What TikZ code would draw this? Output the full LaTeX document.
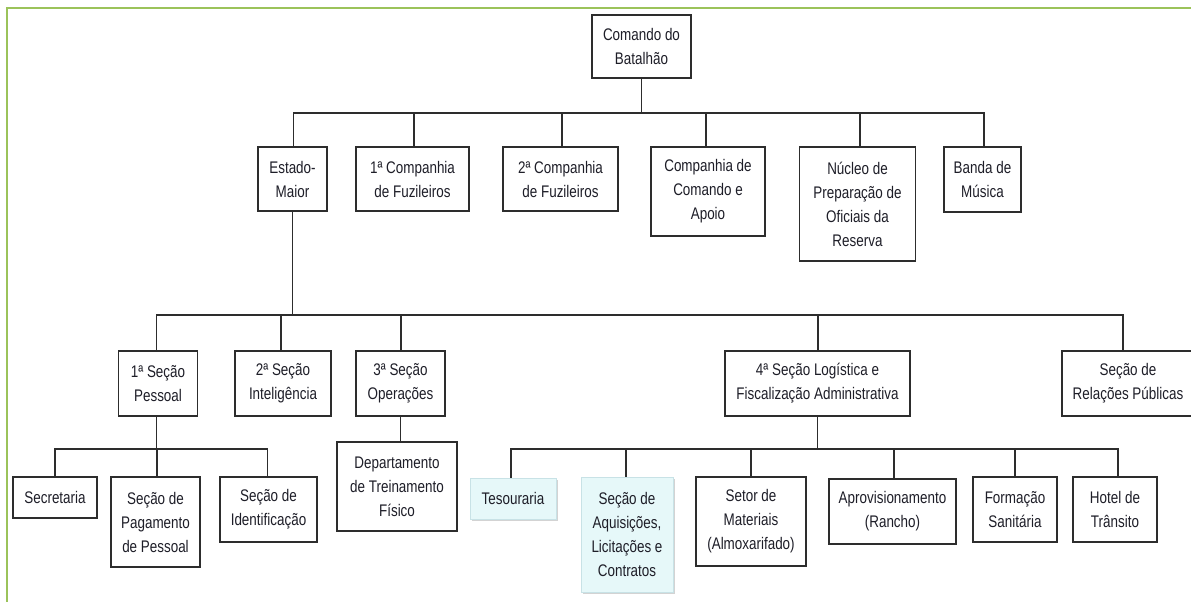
\documentclass[tikz,border=0pt]{standalone}
\usepackage{fontspec}
\setmainfont[FakeStretch=0.8]{Liberation Sans}
\usetikzlibrary{shadows}
\definecolor{framegreen}{RGB}{155,195,90}
\definecolor{boxline}{RGB}{45,45,45}
\definecolor{inktext}{RGB}{30,30,40}
\definecolor{paleaqua}{RGB}{230,248,249}
\definecolor{aqualine}{RGB}{200,226,230}
\tikzset{
  box/.style={draw=boxline, line width=1.4pt, fill=white, inner sep=0pt,
    align=center, text=inktext, font=\fontsize{16.8}{24}\selectfont},
  aquabox/.style={box, draw=aqualine, line width=1pt, fill=paleaqua,
    drop shadow={shadow xshift=1.5pt, shadow yshift=-2pt, opacity=0.35}},
  link/.style={draw=boxline, line width=1.3pt},
  frameline/.style={draw=framegreen, line width=2.5pt}
}
% \orgunit[style]{name}{cx}{cy}{width}{height}{text}
\newcommand\orgunit[7][box]{%
  \node[#1, minimum width=#5pt, minimum height=#6pt] (#2) at (#3,#4) {#7};}
\begin{document}
\begin{tikzpicture}[x=1pt, y=-1pt]
\useasboundingbox (0,0) rectangle (1191,602);
% page frame
\draw[frameline] (7,620) -- (7,8) -- (1210,8);

% bar levels
\coordinate (barA) at (0,113);
\coordinate (barB) at (0,315);
\coordinate (barC) at (0,449);

% level 1
\orgunit{cmd}{641.5}{46.5}{99}{63}{Comando do\\Batalhão}
% level 2
\orgunit{em}{292.5}{179}{69}{64}{Estado-\\Maior}
\orgunit{ca}{412.5}{179}{113}{64}{1ª Companhia\\de Fuzileiros}
\orgunit{cb}{560.5}{179}{115}{64}{2ª Companhia\\de Fuzileiros}
\orgunit{cca}{708}{191.5}{114}{89}{Companhia de\\Comando e\\Apoio}
\orgunit{nuc}{857.5}{204}{116}{114}{Núcleo de\\Preparação de\\Oficiais da\\Reserva}
\orgunit{band}{982.5}{179.5}{77}{65}{Banda de\\Música}
% level 3
\orgunit{sa}{158}{383.5}{79}{65}{1ª Seção\\Pessoal}
\orgunit{sb}{283}{383.5}{96}{65}{2ª Seção\\Inteligência}
\orgunit{sc}{400.5}{383.5}{89}{65}{3ª Seção\\Operações}
\orgunit{sd}{817.5}{383.5}{185}{65}{4ª Seção Logística e\\Fiscalização Administrativa}
\orgunit{rp}{1128}{383.5}{132}{65}{Seção de\\Relações Públicas}
% level 4, under 1ª Seção
\orgunit{sec}{55}{497.5}{84}{41}{Secretaria}
\orgunit{pag}{155.5}{522}{89}{90}{Seção de\\Pagamento\\de Pessoal}
\orgunit{idf}{268.5}{509.5}{97}{65}{Seção de\\Identificação}
% under 3ª Seção
\orgunit{dep}{397}{486.5}{120}{89}{Departamento\\de Treinamento\\Físico}
% under 4ª Seção
\orgunit[aquabox]{tes}{513}{498.5}{86}{41}{Tesouraria}
\orgunit[aquabox]{aq}{627}{534.5}{92}{115}{Seção de\\Aquisições,\\Licitações e\\Contratos}
\orgunit{mat}{751}{521.5}{110}{89}{Setor de\\Materiais\\(Almoxarifado)}
\orgunit{apr}{892.5}{511.5}{127}{65}{Aprovisionamento\\(Rancho)}
\orgunit{form}{1015}{509.5}{84}{65}{Formação\\Sanitária}
\orgunit{hot}{1115}{509.5}{84}{65}{Hotel de\\Trânsito}

% connectors: child / horizontal offset of its entry point
\foreach \c/\dx in {em/1,ca/1.5,cb/1.5,cca/-2,nuc/2.5,band/1.5}
  \draw[link] (cmd.south) -- (cmd.south |- barA) -| ([xshift=\dx pt]\c.north);
\foreach \c/\dx in {sa/-1.5,sb/-2,sc/0.5,sd/0.5,rp/-5}
  \draw[link] (em.south) -- (em.south |- barB) -| ([xshift=\dx pt]\c.north);
\foreach \c/\dx in {sec/0,pag/1.5,idf/-1}
  \draw[link] ([xshift=-1.5pt]sa.south) -- ([xshift=-1.5pt]sa.south |- barC) -| ([xshift=\dx pt]\c.north);
\draw[link] (sc.south) -- (sc.south |- dep.north);
\foreach \c/\dx in {tes/-2,aq/-1,mat/0,apr/1.5,form/0,hot/3}
  \draw[link] (sd.south) -- (sd.south |- barC) -| ([xshift=\dx pt]\c.north);
\end{tikzpicture}
\end{document}
